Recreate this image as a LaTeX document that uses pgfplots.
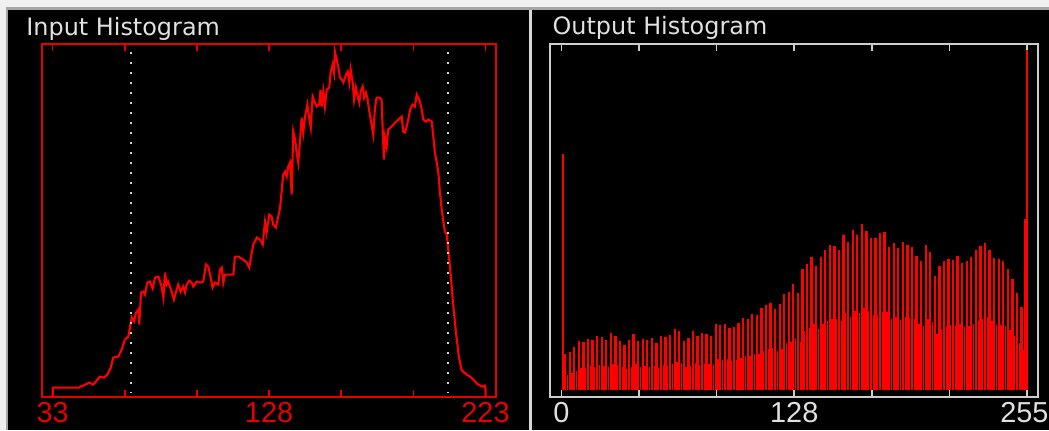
\documentclass[border=0pt]{standalone}
\usepackage{pgfplots}
\pgfplotsset{compat=1.18}
\usepackage{pgfplotstable}
\usepackage{fontspec}
\newfontfamily\titlefont{DejaVu Sans}
\newfontfamily\labfont{Liberation Sans}
\definecolor{bggray}{RGB}{240,240,240}
\definecolor{bordergray}{RGB}{165,165,165}
\definecolor{sepgray}{RGB}{215,215,215}
\definecolor{framered}{RGB}{232,0,0}
\definecolor{curvered}{RGB}{255,0,0}
\definecolor{txtgray}{RGB}{225,225,225}
\definecolor{framegray}{RGB}{205,205,205}
\definecolor{dotgray}{RGB}{210,210,210}

\pgfplotstableread{
v h
33.0 0
33.1 9
44.6 9
45.0 10
46.4 11
49.1 14
50.8 12
53.8 20
55.5 19
57.0 22
58.5 29
59.6 39
61.8 40
63.3 47
64.7 57
66.2 60
66.9 69
67.7 79
68.7 75
69.6 84
70.6 87
71.0 72
71.8 104
72.8 105
73.5 102
74.5 114
75.7 115
76.9 108
77.9 119
79.4 120
80.8 110
81.6 99
82.3 124
83.0 112
83.7 115
85.2 105
86.2 97
87.4 107
88.1 112
89.2 105
90.3 110
91.1 104
91.8 112
93.0 116
94.0 114
94.7 110
96.2 115
97.7 114
99.1 115
100.3 132
101.3 130
102.1 122
103.2 109
104.2 114
105.7 112
106.4 127
107.2 129
107.9 114
108.6 122
110.8 122
112.3 122
113.0 140
114.5 140
116.7 137
118.2 134
119.3 129
120.4 144
121.1 152
122.6 159
124.0 157
125.2 152
126.2 175
126.9 164
128.1 182
129.1 180
129.8 172
131.0 169
132.0 180
132.8 188
133.5 205
134.2 222
135.0 225
135.7 220
136.4 230
137.2 234
137.9 202
138.6 265
139.4 257
140.1 244
140.8 234
141.6 257
142.3 279
143.0 264
143.8 280
144.8 292
145.6 279
146.3 269
147.1 300
148.1 294
148.9 290
150.0 292
150.6 307
151.1 290
151.8 305
152.5 290
153.3 307
154.4 309
155.0 324
155.9 332
156.5 324
156.9 345
157.7 337
158.4 329
159.1 319
159.9 317
160.6 314
161.8 322
162.5 325
163.2 314
163.8 327
164.7 314
165.3 297
166.1 309
166.7 302
167.6 294
168.2 305
169.1 310
169.7 299
170.5 304
171.1 299
172.0 285
173.0 272
173.7 262
174.5 289
175.2 299
176.4 299
177.4 297
177.9 265
178.4 237
178.9 259
179.6 250
180.3 267
181.8 270
183.3 274
184.7 277
186.2 280
186.9 265
187.7 264
188.4 270
189.1 277
189.9 287
191.0 292
192.0 290
192.8 302
193.5 299
194.2 295
195.0 287
195.7 277
196.9 275
197.9 277
199.4 275
200.1 260
200.8 244
201.6 234
202.3 224
203.0 204
203.8 187
204.5 175
205.2 165
206.0 162
207.4 130
208.7 95
210.0 65
211.3 40
212.4 27
213.2 25
214.7 22
216.2 20
217.7 17
219.2 13
220.8 11
221.5 10
222.7 11
223.0 8
223.1 0
}\inputhist

\pgfplotstableread{
j t
2.0 36
4.5 38
7.0 43
9.5 49
12.0 48
14.5 51
17.0 50
19.5 54
22.0 53
24.5 50
27.0 57
29.5 54
32.0 49
34.5 45
37.0 50
39.5 56
42.0 49
44.5 51
47.0 50
49.5 52
52.0 47
54.5 54
57.0 53
59.5 55
62.0 61
64.5 59
67.0 49
69.5 52
72.0 59
74.5 54
77.0 57
79.5 56
82.0 54
84.5 66
87.0 65
89.5 66
92.0 62
94.5 63
97.0 67
99.5 72
102.0 71
104.5 76
107.0 75
109.5 82
112.0 85
114.5 87
117.0 81
119.5 86
122.0 96
124.5 98
127.0 106
129.5 97
132.0 121
134.5 126
137.0 133
139.5 124
142.0 133
144.5 139
147.0 144
149.5 143
152.0 139
154.5 154
157.0 147
159.5 159
162.0 154
164.5 165
167.0 158
169.5 151
172.0 151
174.5 156
177.0 157
179.5 142
182.0 146
184.5 141
187.0 147
189.5 144
192.0 142
194.5 134
197.0 129
199.5 144
202.0 138
204.5 114
207.0 124
209.5 129
212.0 131
214.5 130
217.0 134
219.5 127
222.0 129
224.5 133
227.0 139
229.5 143
232.0 146
234.5 139
237.0 132
239.5 131
242.0 129
244.5 121
247.0 111
249.5 97
252.0 83
}\outtall

\pgfplotstableread{
j l
3.25 15
5.75 17
8.25 19
10.75 22
13.25 22
15.75 24
18.25 23
20.75 25
23.25 24
25.75 23
28.25 26
30.75 25
33.25 23
35.75 21
38.25 23
40.75 26
43.25 23
45.75 24
48.25 23
50.75 24
53.25 22
55.75 25
58.25 24
60.75 26
63.25 28
65.75 27
68.25 23
70.75 24
73.25 27
75.75 25
78.25 26
80.75 26
83.25 25
85.75 31
88.25 30
90.75 31
93.25 29
95.75 30
98.25 32
100.75 34
103.25 34
105.75 36
108.25 36
110.75 39
113.25 41
115.75 42
118.25 39
120.75 41
123.25 47
125.75 48
128.25 52
130.75 48
133.25 59
135.75 62
138.25 66
140.75 61
143.25 66
145.75 69
148.25 71
150.75 71
153.25 69
155.75 77
158.25 73
160.75 79
163.25 77
165.75 82
168.25 79
170.75 75
173.25 75
175.75 78
178.25 78
180.75 71
183.25 73
185.75 70
188.25 73
190.75 72
193.25 71
195.75 66
198.25 64
200.75 71
203.25 68
205.75 56
208.25 61
210.75 64
213.25 65
215.75 64
218.25 66
220.75 63
223.25 64
225.75 66
228.25 69
230.75 71
233.25 73
235.75 69
238.25 65
240.75 65
243.25 64
245.75 60
248.25 54
250.75 47
253.25 40
}\outlow

\pgfplotstableread{
j s
0.7 235
254.0 170
254.9 339
}\outspikes

\begin{document}
\begin{tikzpicture}[x=1bp,y=1bp]
\useasboundingbox (0,0) rectangle (1049,430);
\clip (0,0) rectangle (1049,430);
% window background
\fill[bggray] (0,0) rectangle (1049,430);
\fill[bordergray] (6,0) rectangle (1049,423);
\fill[black] (7.6,0) rectangle (528.6,419.7);
\fill[sepgray] (528.6,0) rectangle (532,419.7);
\fill[black] (532,0) rectangle (1049,419.7);
% titles
\node[anchor=base west, inner sep=0pt, text=txtgray, font=\titlefont\fontsize{24}{24}\selectfont] at (26.2,394.5) {Input Histogram};
\node[anchor=base west, inner sep=0pt, text=txtgray, font=\titlefont\fontsize{24}{24}\selectfont] at (552.4,395) {Output Histogram};

% ---------- input histogram ----------
\begin{axis}[
  at={(42.4bp,33.4bp)}, anchor=south west,
  scale only axis, width=453.5bp, height=352.2bp,
  xmin=28.48, xmax=227.57, ymin=0, ymax=352.2,
  axis line style={draw=framered, line width=2bp},
  xtick={33,64.667,96.333,128,159.667,191.333,223},
  xticklabels={33,,,128,,,223},
  ytick=\empty,
  xtick pos=both,
  xtick align=inside, major tick length=7bp,
  tick style={draw=framered, line width=1.6bp},
  xticklabel style={anchor=north, inner sep=0pt, yshift=-6bp, text=framered,
    font=\labfont\fontsize{29}{29}\selectfont},
]
\addplot[curvered, line width=2.1bp, sharp plot, mark=none] table[x=v,y=h] {\inputhist};
\addplot[dotgray, line width=2bp, dash pattern=on 2bp off 8bp, mark=none] coordinates {(67.4,344.6) (67.4,3.6)};
\addplot[dotgray, line width=2bp, dash pattern=on 2bp off 8bp, mark=none] coordinates {(206.4,344.6) (206.4,3.6)};
\end{axis}

% ---------- output histogram ----------
\begin{axis}[
  at={(549.7bp,33.4bp)}, anchor=south west,
  scale only axis, width=488.3bp, height=352.2bp,
  xmin=-6.46, xmax=261.03, ymin=-7.1, ymax=345.1,
  axis line style={draw=framegray, line width=2bp},
  xtick={0,42.5,85,127.5,170,212.5},
  xticklabels={0,,,128,,},
  extra x ticks={255},
  extra x tick labels={255},
  extra x tick style={xticklabel style={xshift=-2.6bp}},
  ytick=\empty,
  xtick pos=both,
  xtick align=inside, major tick length=7bp,
  tick style={draw=framegray, line width=1.6bp},
  xticklabel style={anchor=north, inner sep=0pt, yshift=-6bp, text=txtgray,
    font=\labfont\fontsize{29}{29}\selectfont},
]
\addplot[curvered, ycomb, line width=2.3bp, mark=none] table[x=j,y=t] {\outtall};
\addplot[curvered, ycomb, line width=1.3bp, mark=none] table[x=j,y=l] {\outlow};
\addplot[curvered, ycomb, line width=1.5bp, mark=none] table[x=j,y=s] {\outspikes};
\end{axis}
\end{tikzpicture}
\end{document}
